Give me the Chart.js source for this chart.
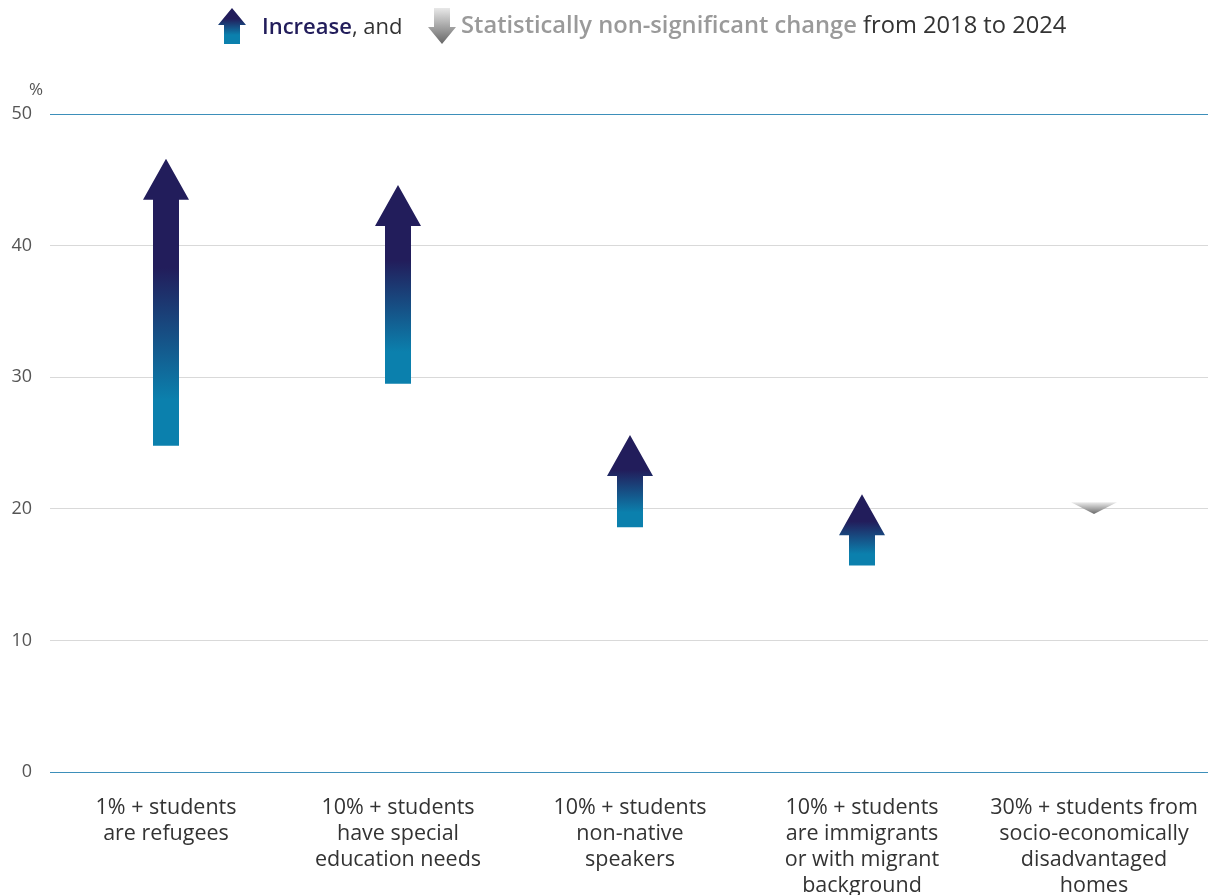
<!DOCTYPE html>
<html>
<head>
<meta charset="utf-8">
<script src="https://cdn.jsdelivr.net/npm/chart.js@4"></script>
<style>
  html, body { margin: 0; padding: 0; background: #fff; }
  body { width: 1208px; height: 895px; position: relative; overflow: hidden; font-family: "Open Sans", sans-serif; }
  #chartBox { position: absolute; left: 0; top: 0; width: 1210px; height: 895px; }
  .leg { position: absolute; top: 8px; font-size: 22px; line-height: 34px; white-space: nowrap; }
  .leg svg { position: absolute; top: 0; }
</style>
</head>
<body>
<div id="chartBox"><canvas id="chart"></canvas></div>

<!-- leyenda -->
<div class="leg" style="left:218px">
  <svg width="28" height="36" viewBox="0 0 28 36">
    <defs>
      <linearGradient id="gUp" x1="0" y1="1" x2="0" y2="0">
        <stop offset="0" stop-color="#0b80ad"/>
        <stop offset="0.25" stop-color="#0b80ad"/>
        <stop offset="0.7" stop-color="#221d5b"/>
        <stop offset="1" stop-color="#221d5b"/>
      </linearGradient>
    </defs>
    <polygon points="14,0 28,17 22,17 22,36 6,36 6,17 0,17" fill="url(#gUp)"/>
  </svg>
</div>
<div class="leg" style="left:262px; color:#333"><span style="color:#221d5b; font-weight:600">Increase</span>, and</div>
<div class="leg" style="left:428px">
  <svg width="28" height="36" viewBox="0 0 28 36">
    <defs>
      <linearGradient id="gDown" x1="0" y1="0" x2="0" y2="1">
        <stop offset="0" stop-color="#e8e8e8"/>
        <stop offset="1" stop-color="#666"/>
      </linearGradient>
    </defs>
    <polygon points="6,0 22,0 22,19 28,19 14,36 0,19 6,19" fill="url(#gDown)"/>
  </svg>
</div>
<div class="leg" style="left:461px; top:7px; font-size:23.7px; color:#333"><span style="color:#9a9a9a; font-weight:600">Statistically non-significant change</span> from 2018 to 2024</div>

<script>
// categorías y valores (inicio 2018 -> fin 2024)
const categorias = [
  ['1% + students', 'are refugees'],
  ['10% + students', 'have special', 'education needs'],
  ['10% + students', 'non-native', 'speakers'],
  ['10% + students', 'are immigrants', 'or with migrant', 'background'],
  ['30% + students from', 'socio-economically', 'disadvantaged', 'homes']
];
const valores2018 = [24.8, 29.5, 18.6, 15.7, 20.5];
const valores2024 = [46.6, 44.6, 25.6, 21.1, 19.6];
const significativo = [true, true, true, true, false];
const ticksY = [0, 10, 20, 30, 40, 50];

const NAVY = '#221d5b';
const TEAL = '#0b80ad';

// dibuja las flechas encima de las barras flotantes (invisibles)
const flechas = {
  id: 'flechas',
  afterDatasetsDraw(chart) {
    const ctx = chart.ctx;
    const y = chart.scales.y;
    const meta = chart.getDatasetMeta(0);
    meta.data.forEach((bar, i) => {
      const x = bar.x;
      const y0 = y.getPixelForValue(valores2018[i]);
      const y1 = y.getPixelForValue(valores2024[i]);
      const up = y1 < y0;
      const len = Math.abs(y0 - y1);
      const shaft = 13, head = 23;
      const headLen = Math.min(41, len);
      const dir = up ? -1 : 1;
      const yBase = y1 - dir * headLen;

      let grad;
      if (significativo[i]) {
        grad = ctx.createLinearGradient(0, y0, 0, y1);
        grad.addColorStop(0, TEAL);
        grad.addColorStop(0.16, TEAL);
        grad.addColorStop(0.62, NAVY);
        grad.addColorStop(1, NAVY);
      } else {
        grad = ctx.createLinearGradient(0, y0, 0, y1);
        grad.addColorStop(0, '#ececec');
        grad.addColorStop(1, '#6a6a6a');
      }

      ctx.save();
      ctx.fillStyle = grad;
      ctx.beginPath();
      ctx.moveTo(x, y1);
      ctx.lineTo(x + head, yBase);
      if (len > headLen) {
        ctx.lineTo(x + shaft, yBase);
        ctx.lineTo(x + shaft, y0);
        ctx.lineTo(x - shaft, y0);
        ctx.lineTo(x - shaft, yBase);
      }
      ctx.lineTo(x - head, yBase);
      ctx.closePath();
      ctx.fill();
      ctx.restore();
    });

    // unidad del eje
    const area = chart.chartArea;
    ctx.save();
    ctx.font = '17px "Open Sans"';
    ctx.fillStyle = '#555';
    ctx.textAlign = 'center';
    ctx.textBaseline = 'middle';
    ctx.fillText('%', area.left - 14, area.top - 24);
    ctx.restore();
  }
};

const ctx = document.getElementById('chart').getContext('2d');
new Chart(ctx, {
  type: 'bar',
  data: {
    labels: categorias,
    datasets: [{
      data: valores2018.map((v, i) => [v, valores2024[i]]),
      backgroundColor: 'rgba(0,0,0,0)',
      borderWidth: 0
    }]
  },
  options: {
    responsive: true,
    maintainAspectRatio: false,
    animation: false,
    layout: { padding: { top: 114, right: 0, left: 0, bottom: 0 } },
    plugins: { legend: { display: false }, tooltip: { enabled: false } },
    scales: {
      x: {
        grid: { display: false, drawTicks: false },
        border: { display: false },
        ticks: {
          font: { family: 'Open Sans', size: 21.5, lineHeight: '26px' },
          color: '#333',
          padding: 23,
          maxRotation: 0,
          autoSkip: false
        },
        afterFit(scale) {
          scale.height = 123;
          scale.paddingLeft = 0;
          scale.paddingRight = 0;
        }
      },
      y: {
        min: 0,
        max: 50,
        afterBuildTicks(scale) { scale.ticks = ticksY.map(v => ({ value: v })); },
        grid: {
          drawTicks: false,
          lineWidth: 1,
          color: c => (c.tick && (c.tick.value === 0 || c.tick.value === 50)) ? '#3d8fba' : '#d9d9d9'
        },
        border: { display: false },
        ticks: {
          font: { family: 'Open Sans', size: 18 },
          color: '#555',
          padding: 18
        },
        afterFit(scale) { scale.width = 50; }
      }
    }
  },
  plugins: [flechas]
});
</script>
</body>
</html>
